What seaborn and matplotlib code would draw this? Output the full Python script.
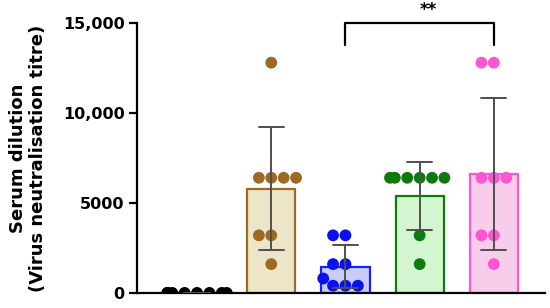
import matplotlib
matplotlib.use("Agg")
from matplotlib import pyplot as plt
from matplotlib.ticker import FuncFormatter
import seaborn as sns
import numpy as np
import pandas as pd

# group names (no x tick labels are shown in the figure)
GROUPS = ["G1", "G2", "G3", "G4", "G5"]

# virus neutralisation titres per animal
TITRES_G1 = [0, 0, 0, 0, 0, 0, 0, 0]
TITRES_G2 = [12800, 6400, 6400, 6400, 6400, 3200, 3200, 1600]
TITRES_G3 = [3200, 3200, 1600, 1600, 800, 400, 400, 400]
TITRES_G4 = [6400, 6400, 6400, 6400, 6400, 6400, 3200, 1600]
TITRES_G5 = [12800, 12800, 6400, 6400, 6400, 3200, 3200, 1600]

DOT_COLORS = ["#000000", "#9C6A22", "#0A10F0", "#0E7A0E", "#FF55D2"]
BAR_COLORS = ["#FFFFFF", "#EDE5C8", "#C9CCF6", "#D3F6D0", "#F8CDEC"]
EDGE_COLORS = ["#000000", "#9C6A22", "#1A22F0", "#0E7A0E", "#FF55D2"]

COMPARISON = ("G3", "G5", "**")

rows = []
for g, vals in zip(GROUPS, [TITRES_G1, TITRES_G2, TITRES_G3, TITRES_G4, TITRES_G5]):
    for v in vals:
        rows.append({"group": g, "titre": v})
df = pd.DataFrame(rows)

sns.set_style("ticks")
plt.rcParams["font.family"] = ["DejaVu Sans"]
plt.rcParams["text.color"] = "black"
plt.rcParams["axes.labelcolor"] = "black"
plt.rcParams["ytick.color"] = "black"
plt.rcParams["axes.edgecolor"] = "black"

fig = plt.figure(figsize=(5.5, 3.08), dpi=100)
ax = fig.add_axes([0.249, 0.049, 0.742, 0.876])

sns.barplot(
    data=df, x="group", y="titre", hue="group", order=GROUPS,
    palette=BAR_COLORS, saturation=1, errorbar="sd", capsize=0.34, width=0.65,
    err_kws={"color": "#505050", "linewidth": 1.4}, legend=False, ax=ax,
)
for patch, ec in zip(ax.patches, EDGE_COLORS):
    patch.set_edgecolor(ec)
    patch.set_linewidth(1.6)
for line in ax.lines:
    line.set_zorder(6)

sns.swarmplot(
    data=df, x="group", y="titre", hue="group", order=GROUPS,
    palette=DOT_COLORS, size=8.5, linewidth=0, legend=False, ax=ax,
    zorder=4, warn_thresh=1.0,
)

ax.set_xlim(-0.81, 4.69)
ax.set_ylim(0, 15000)
ax.set_yticks([0, 5000, 10000, 15000])
ax.yaxis.set_major_formatter(
    FuncFormatter(lambda v, p: f"{int(v):,}" if v >= 10000 else f"{int(v)}")
)
ax.set_xticks([])
ax.set_xlabel("")
ax.set_ylabel("Serum dilution\n(Virus neutralisation titre)",
              fontsize=13, fontweight="bold", linespacing=1.15, labelpad=11)
for lbl in ax.get_yticklabels():
    lbl.set_fontweight("bold")
ax.tick_params(axis="y", labelsize=11.5, width=1.6, length=6, pad=3)
for side in ["top", "right"]:
    ax.spines[side].set_visible(False)
for side in ["left", "bottom"]:
    ax.spines[side].set_linewidth(1.6)

# significance bracket
i1, i2 = GROUPS.index(COMPARISON[0]), GROUPS.index(COMPARISON[1])
top = ax.get_ylim()[1]
leg = top - 1200
ax.plot([i1, i1, i2, i2], [leg, top, top, leg], color="black",
        linewidth=1.6, clip_on=False, zorder=7)
ax.text((i1 + i2) / 2 + 0.12, top + 250, COMPARISON[2], ha="center", va="bottom",
        fontsize=12, fontweight="bold", clip_on=False)

fig.savefig("out.png", dpi=100)
